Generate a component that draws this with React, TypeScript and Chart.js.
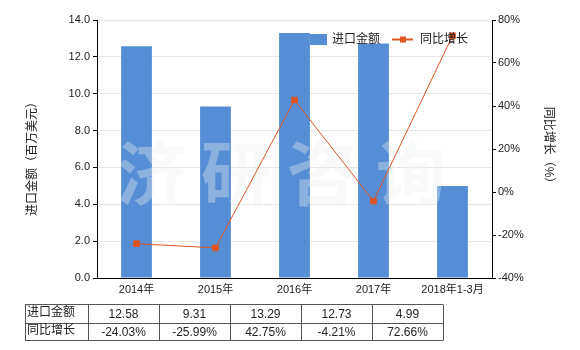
import React, { useEffect, useRef } from "react";
import { Chart, registerables } from "chart.js";

Chart.register(...registerables);

const categories = ["2014年", "2015年", "2016年", "2017年", "2018年1-3月"];
const importValues = [12.58, 9.31, 13.29, 12.73, 4.99];
const growthValues = [-24.03, -25.99, 42.75, -4.21, 72.66];
const importLabels = ["12.58", "9.31", "13.29", "12.73", "4.99"];
const growthLabels = ["-24.03%", "-25.99%", "42.75%", "-4.21%", "72.66%"];
const seriesNames = ["进口金额", "同比增长"];
const leftTitle = "进口金额（百万美元）";
const rightTitle = "同比增长（%）";
const watermark = ["济", "研", "咨", "询"];

const FONT = "'Liberation Sans', 'Noto Sans CJK SC', sans-serif";
const BAR_COLOR = "#558ed5";
const LINE_COLOR = "#dd5522";

export default function App() {
  const ref = useRef<HTMLCanvasElement | null>(null);

  useEffect(() => {
    const canvas = ref.current;
    if (!canvas) return;

    const decor = {
      id: "decor",
      afterDatasetDraw(chart: any, args: any) {
        if (args.index !== 0) return;
        const ctx = chart.ctx;
        ctx.save();
        ctx.fillStyle = "rgba(235,240,240,0.36)";
        ctx.font = "bold 70px 'Noto Sans CJK SC', sans-serif";
        ctx.textAlign = "center";
        ctx.textBaseline = "middle";
        const xs = [152, 236, 322, 411];
        watermark.forEach((c, i) => ctx.fillText(c, xs[i], 173));
        ctx.restore();
      },
      afterDraw(chart: any) {
        const ctx = chart.ctx;
        ctx.save();
        // axis titles
        ctx.fillStyle = "#222";
        ctx.font = `12px ${FONT}`;
        ctx.textAlign = "center";
        ctx.textBaseline = "middle";
        ctx.save();
        ctx.translate(33, 156);
        ctx.rotate(-Math.PI / 2);
        ctx.fillText(leftTitle, 0, 0);
        ctx.restore();
        ctx.save();
        ctx.translate(548, 148);
        ctx.rotate(Math.PI / 2);
        ctx.fillText(rightTitle, 0, 0);
        ctx.restore();

        // legend
        ctx.fillStyle = BAR_COLOR;
        ctx.fillRect(310, 34, 17, 11);
        ctx.fillStyle = "#222";
        ctx.textAlign = "left";
        ctx.fillText(seriesNames[0], 332, 40);
        ctx.strokeStyle = LINE_COLOR;
        ctx.lineWidth = 2;
        ctx.beginPath();
        ctx.moveTo(392, 39.5);
        ctx.lineTo(413, 39.5);
        ctx.stroke();
        ctx.fillStyle = LINE_COLOR;
        ctx.fillRect(400, 36.5, 6, 6);
        ctx.fillStyle = "#222";
        ctx.fillText(seriesNames[1], 420, 40);

        // table
        const xsB = [25, 88, 159, 230, 301, 372, 443];
        const ys = [304.5, 323.5, 340.5];
        ctx.strokeStyle = "#555";
        ctx.lineWidth = 1;
        ctx.beginPath();
        ys.forEach((y) => {
          ctx.moveTo(xsB[0], y);
          ctx.lineTo(xsB[6], y);
        });
        xsB.forEach((x) => {
          ctx.moveTo(x + 0.5, ys[0]);
          ctx.lineTo(x + 0.5, ys[2]);
        });
        ctx.stroke();
        ctx.fillStyle = "#222";
        ctx.font = `12px ${FONT}`;
        ctx.textAlign = "left";
        ctx.fillText(seriesNames[0], 27, 313);
        ctx.fillText(seriesNames[1], 27, 331);
        ctx.textAlign = "center";
        for (let i = 0; i < 5; i++) {
          const cx = (xsB[i + 1] + xsB[i + 2]) / 2;
          ctx.fillText(importLabels[i], cx, 315);
          ctx.fillText(growthLabels[i], cx, 333);
        }
        ctx.restore();
      },
    };

    const chart = new Chart(canvas, {
      type: "bar",
      data: {
        labels: categories,
        datasets: [
          {
            type: "bar",
            label: seriesNames[0],
            data: importValues,
            backgroundColor: BAR_COLOR,
            yAxisID: "y",
            order: 1,
            barPercentage: 0.39,
            categoryPercentage: 1,
          },
          {
            type: "line",
            label: seriesNames[1],
            data: growthValues,
            borderColor: LINE_COLOR,
            backgroundColor: LINE_COLOR,
            borderWidth: 1,
            pointStyle: "rect",
            pointRadius: 4,
            pointBackgroundColor: LINE_COLOR,
            pointBorderColor: LINE_COLOR,
            yAxisID: "y1",
            order: 0,
          } as any,
        ],
      },
      options: {
        responsive: false,
        animation: false,
        layout: { padding: { left: 0, right: 0, top: 20, bottom: 50 } },
        plugins: { legend: { display: false }, tooltip: { enabled: false } },
        scales: {
          x: {
            offset: true,
            grid: { display: false, drawTicks: false },
            border: { color: "#000", width: 1 },
            ticks: { color: "#222", font: { size: 11, family: FONT }, padding: 5, maxRotation: 0 },
            afterFit: (s: any) => {
              s.height = 22;
            },
          },
          y: {
            position: "left",
            min: 0,
            max: 14,
            grid: { color: "#e6e6e6", tickColor: "#000", tickLength: 4 },
            border: { color: "#000", width: 1 },
            ticks: {
              stepSize: 2,
              color: "#222",
              padding: 3,
              font: { size: 11, family: FONT },
              callback: (v: any) => Number(v).toFixed(1),
            },
            afterFit: (s: any) => {
              s.width = 97;
            },
          },
          y1: {
            position: "right",
            min: -40,
            max: 80,
            grid: { drawOnChartArea: false, tickColor: "#000", tickLength: 4 },
            border: { color: "#000", width: 1 },
            ticks: {
              stepSize: 20,
              color: "#222",
              padding: 2,
              font: { size: 11, family: FONT },
              callback: (v: any) => `${v}%`,
            },
            afterFit: (s: any) => {
              s.width = 88;
            },
          },
        },
      },
      plugins: [decor],
    });
    return () => chart.destroy();
  }, []);

  return (
    <div style={{ position: "absolute", left: 0, top: 0, width: 580, height: 350, background: "#fff" }}>
      <canvas ref={ref} width={580} height={350} style={{ width: 580, height: 350 }} />
    </div>
  );
}
